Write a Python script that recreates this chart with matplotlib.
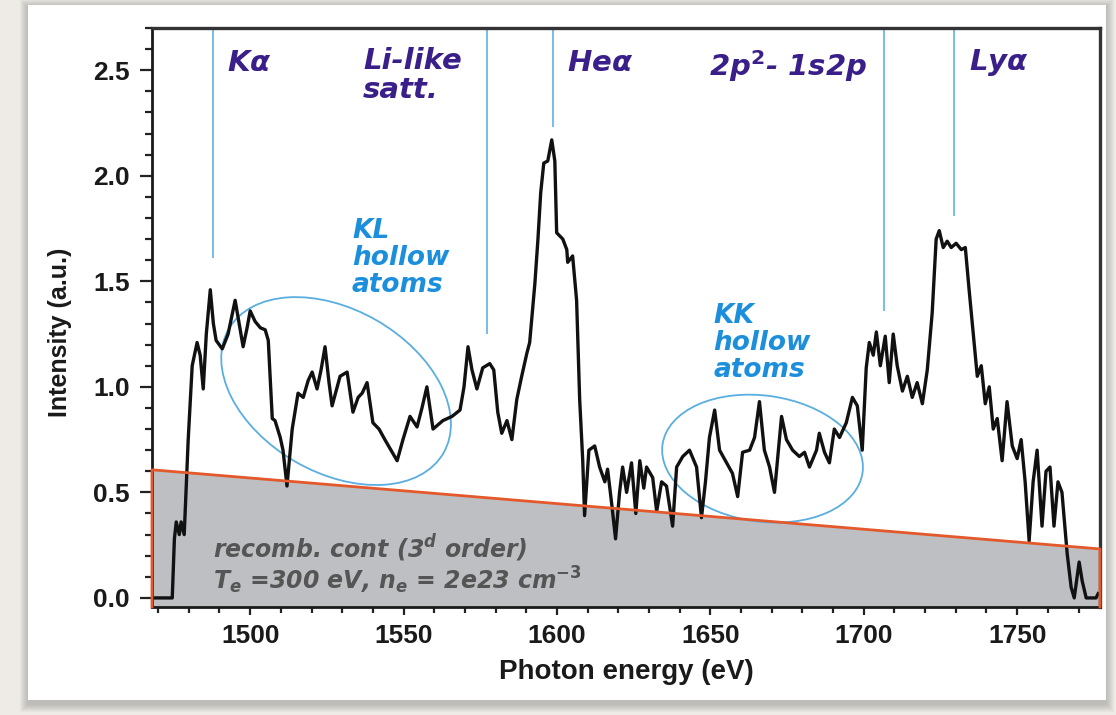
import matplotlib
matplotlib.use("Agg")
import matplotlib.pyplot as plt
from matplotlib.patches import Rectangle, Ellipse
from matplotlib.ticker import MultipleLocator
from matplotlib.transforms import ScaledTranslation

plt.rcParams['font.family'] = ['Liberation Sans', 'DejaVu Sans']
plt.rcParams['font.weight'] = 'bold'

# measured spectrum (photon energy in eV, intensity in a.u.)
energy = [1468.1, 1474.6, 1475.3, 1475.9, 1476.9, 1477.5, 1478.5, 1479.8, 1481.1, 1482.7,
          1483.7, 1484.7, 1485.7, 1487.0, 1488.0, 1488.9, 1490.9, 1492.8, 1495.1, 1496.4,
          1497.7, 1499.0, 1500.0, 1501.6, 1503.3, 1504.9, 1505.9, 1507.2, 1508.1, 1509.8,
          1510.7, 1512.0, 1513.7, 1515.6, 1517.3, 1518.9, 1520.2, 1521.8, 1523.1, 1524.4,
          1525.7, 1526.7, 1528.0, 1529.3, 1531.6, 1533.5, 1535.2, 1536.5, 1538.1, 1540.0,
          1542.0, 1543.9, 1545.9, 1547.9, 1549.8, 1552.1, 1554.4, 1556.0, 1557.6, 1559.6,
          1561.2, 1562.8, 1565.8, 1568.4, 1569.7, 1571.0, 1572.3, 1573.9, 1575.8, 1578.1,
          1579.4, 1580.7, 1582.0, 1583.7, 1585.3, 1586.9, 1588.5, 1590.2, 1591.1, 1592.8,
          1593.8, 1594.7, 1595.7, 1597.0, 1598.3, 1599.3, 1599.9, 1601.9, 1603.2, 1603.5,
          1605.1, 1606.4, 1607.4, 1608.4, 1609.0, 1610.4, 1612.3, 1613.9, 1615.6, 1616.5,
          1617.8, 1619.1, 1620.4, 1621.4, 1622.7, 1624.3, 1625.7, 1627.0, 1628.3, 1629.2,
          1631.2, 1632.5, 1634.1, 1635.7, 1637.7, 1639.0, 1641.0, 1643.2, 1645.5, 1647.1,
          1648.4, 1649.7, 1651.4, 1653.0, 1655.3, 1657.2, 1658.9, 1660.5, 1662.8, 1664.4,
          1666.0, 1667.6, 1669.3, 1670.9, 1673.2, 1674.8, 1676.8, 1679.0, 1680.7, 1682.3,
          1684.6, 1685.5, 1687.2, 1688.8, 1690.4, 1692.1, 1694.3, 1696.3, 1697.9, 1699.5,
          1700.8, 1701.8, 1703.1, 1704.1, 1705.4, 1707.0, 1708.3, 1709.6, 1710.9, 1712.6,
          1714.2, 1715.8, 1717.4, 1719.1, 1720.7, 1722.3, 1723.6, 1724.6, 1725.9, 1727.2,
          1728.5, 1730.1, 1731.8, 1733.1, 1734.4, 1735.7, 1737.0, 1738.3, 1739.6, 1740.9,
          1742.2, 1743.5, 1745.1, 1746.7, 1748.4, 1750.0, 1751.3, 1752.6, 1753.9, 1755.2,
          1756.5, 1758.1, 1759.4, 1760.7, 1762.0, 1763.3, 1764.6, 1766.3, 1767.6, 1768.6,
          1770.2, 1771.2, 1772.5, 1775.7, 1776.4]
intensity = [0.00, 0.00, 0.28, 0.36, 0.30, 0.36, 0.30, 0.75, 1.10, 1.21,
             1.15, 0.99, 1.25, 1.46, 1.30, 1.22, 1.18, 1.25, 1.41, 1.30,
             1.19, 1.28, 1.36, 1.31, 1.28, 1.27, 1.22, 0.85, 0.84, 0.76,
             0.70, 0.53, 0.80, 0.97, 0.95, 1.03, 1.07, 0.99, 1.08, 1.19,
             1.02, 0.91, 0.98, 1.05, 1.07, 0.88, 0.95, 0.97, 1.02, 0.83,
             0.80, 0.75, 0.70, 0.65, 0.75, 0.86, 0.81, 0.90, 1.00, 0.80,
             0.82, 0.84, 0.86, 0.89, 1.00, 1.19, 1.08, 0.99, 1.09, 1.11,
             1.08, 0.88, 0.78, 0.84, 0.75, 0.94, 1.05, 1.16, 1.21, 1.49,
             1.70, 1.92, 2.06, 2.07, 2.17, 2.07, 1.73, 1.70, 1.65, 1.59,
             1.62, 1.41, 0.94, 0.65, 0.39, 0.70, 0.72, 0.62, 0.55, 0.61,
             0.45, 0.28, 0.50, 0.62, 0.50, 0.64, 0.40, 0.65, 0.52, 0.62,
             0.57, 0.41, 0.55, 0.53, 0.34, 0.62, 0.67, 0.70, 0.62, 0.38,
             0.55, 0.76, 0.89, 0.70, 0.64, 0.59, 0.48, 0.69, 0.70, 0.76,
             0.93, 0.70, 0.62, 0.50, 0.86, 0.75, 0.70, 0.67, 0.69, 0.62,
             0.70, 0.78, 0.69, 0.64, 0.80, 0.76, 0.83, 0.95, 0.91, 0.70,
             1.09, 1.21, 1.15, 1.26, 1.10, 1.24, 1.02, 1.25, 1.10, 0.98,
             1.05, 0.95, 1.02, 0.92, 1.08, 1.35, 1.70, 1.74, 1.66, 1.69,
             1.66, 1.68, 1.65, 1.66, 1.45, 1.25, 1.05, 1.10, 0.92, 1.00,
             0.80, 0.85, 0.65, 0.93, 0.72, 0.66, 0.75, 0.55, 0.27, 0.55,
             0.70, 0.34, 0.60, 0.62, 0.34, 0.55, 0.50, 0.21, 0.05, 0.00,
             0.17, 0.08, 0.00, 0.00, 0.02]

# third-order recombination continuum (straight line across the window)
cont_energy = [1468.0, 1777.0]
cont_level = [0.607, 0.232]

# line identifications: position and lower end of the marker
line_energy = [1488.0, 1577.1, 1598.6, 1706.7, 1729.5]
line_bottom = [1.61, 1.25, 2.23, 1.36, 1.81]

xmin, xmax = 1468.0, 1777.0
ymin, ymax = -0.043, 2.70

W, H = 1116, 715
fig = plt.figure(figsize=(W / 100, H / 100), dpi=100)
fig.patch.set_facecolor('#eeebe6')

# card with a soft drop shadow
card = (28, 5, 1106, 700)  # left, top, right, bottom in pixels


def px_rect(l, t, r, b, **kw):
    return Rectangle((l / W, 1 - b / H), (r - l) / W, (b - t) / H,
                     transform=fig.transFigure, **kw)


for k in range(8, 0, -1):
    fig.add_artist(px_rect(card[0] - k, card[1] - k + 2, card[2] + k, card[3] + k + 4,
                           facecolor='#6f6f6f', edgecolor='none', alpha=0.05, zorder=0))
fig.add_artist(px_rect(*card, facecolor='white', edgecolor='none', zorder=0.5))

ax = fig.add_axes([152 / W, 1 - 607 / H, (1100 - 152) / W, (607 - 28) / H])
ax.set_facecolor('none')
ax.set_zorder(1)

# shaded continuum
ax.fill_between(cont_energy, [ymin, ymin], cont_level, color='#bebfc3', lw=0, zorder=1)
ax.plot([cont_energy[0]] + cont_energy + [cont_energy[1]],
        [ymin] + cont_level + [ymin], color='#e4592b', lw=2.0, zorder=6, clip_on=False)

# line markers
ax.vlines(line_energy, line_bottom, ymax, color='#6cb6e3', lw=1.3, zorder=2)

# spectrum
ax.plot(energy, intensity, color='#111111', lw=2.4, zorder=4)

ax.set_xlim(xmin, xmax)
ax.set_ylim(ymin, ymax)

ax.xaxis.set_major_locator(MultipleLocator(50))
ax.xaxis.set_minor_locator(MultipleLocator(10))
ax.yaxis.set_major_locator(MultipleLocator(0.5))
ax.yaxis.set_minor_locator(MultipleLocator(0.1))
ax.yaxis.set_major_formatter(plt.FuncFormatter(lambda v, p: f'{v:.1f}'))

ax.tick_params(axis='x', which='major', direction='out', length=6, width=1.6,
               labelsize=19, pad=6, color='#222222')
ax.tick_params(axis='x', which='minor', direction='out', length=4, width=1.6, color='#222222')
ax.tick_params(axis='y', which='major', direction='out', length=9, width=1.6,
               labelsize=19, pad=7, color='#222222')
ax.tick_params(axis='y', which='minor', direction='out', length=5, width=1.6, color='#222222')
for lab in ax.get_xticklabels() + ax.get_yticklabels():
    lab.set_fontweight('bold')
    lab.set_color('#1a1a1a')

for side in ['left', 'bottom']:
    ax.spines[side].set_linewidth(2.0)
    ax.spines[side].set_color('#1a1a1a')
for side in ['top', 'right']:
    ax.spines[side].set_linewidth(2.4)
    ax.spines[side].set_color('#333333')

ax.set_xlabel('Photon energy (eV)', fontsize=20, fontweight='bold', color='#1a1a1a')
ax.xaxis.set_label_coords(0.5, -0.112)
ax.xaxis.label.set_va('center')
ax.set_ylabel('Intensity (a.u.)', fontsize=18, fontweight='bold', color='#1a1a1a')
ax.yaxis.set_label_coords(-0.097, 0.475)
ax.yaxis.label.set_va('center')

# transition labels
purple = '#3a1f8a'
lab_kw = dict(color=purple, fontsize=21, fontweight='bold', fontstyle='italic',
              family='DejaVu Sans', math_fontfamily='dejavusans', zorder=7)
ax.text(1492.5, 2.535, r'K$\alpha$', va='center', ha='left', **lab_kw)
ax.text(1536.8, 2.61, 'Li-like\nsatt.', va='top', ha='left', linespacing=1.05, **lab_kw)
ax.text(1603.2, 2.535, r'He$\alpha$', va='center', ha='left', **lab_kw)
ax.text(1649.7, 2.52, r'2p$^2$- 1s2p', va='center', ha='left', **lab_kw)
ax.text(1734.4, 2.535, r'Ly$\alpha$', va='center', ha='left', **lab_kw)

blue = '#1c8fdc'
blue_kw = dict(color=blue, fontsize=19, fontweight='bold', fontstyle='italic',
               family='DejaVu Sans', linespacing=1.05, zorder=7)
ax.text(1533.2, 1.61, 'KL\nhollow\natoms', va='center', ha='left', **blue_kw)
ax.text(1651.0, 1.21, 'KK\nhollow\natoms', va='center', ha='left', **blue_kw)

# hollow-atom regions, sized in pixels around a data-space centre
for cx, cy, w, h, ang in [(1528.0, 0.98, 248, 163, -30), (1667.0, 0.66, 202, 126, -8)]:
    tr = fig.dpi_scale_trans + ScaledTranslation(cx, cy, ax.transData)
    ax.add_patch(Ellipse((0, 0), w / 100, h / 100, angle=ang, transform=tr,
                         fill=False, edgecolor='#5aaee0', lw=1.3, zorder=3))

# continuum annotation
note_kw = dict(color='#555555', fontsize=17, fontweight='bold', fontstyle='italic',
               family='DejaVu Sans', math_fontfamily='dejavusans', va='center',
               ha='left', zorder=7)
ax.text(1488.0, 0.237, r'recomb. cont (3$^d$ order)', **note_kw)
ax.text(1488.0, 0.085, r'T$_e$ =300 eV, n$_e$ = 2e23 cm$^{-3}$', **note_kw)

fig.savefig('out.png', dpi=100, facecolor=fig.get_facecolor())
